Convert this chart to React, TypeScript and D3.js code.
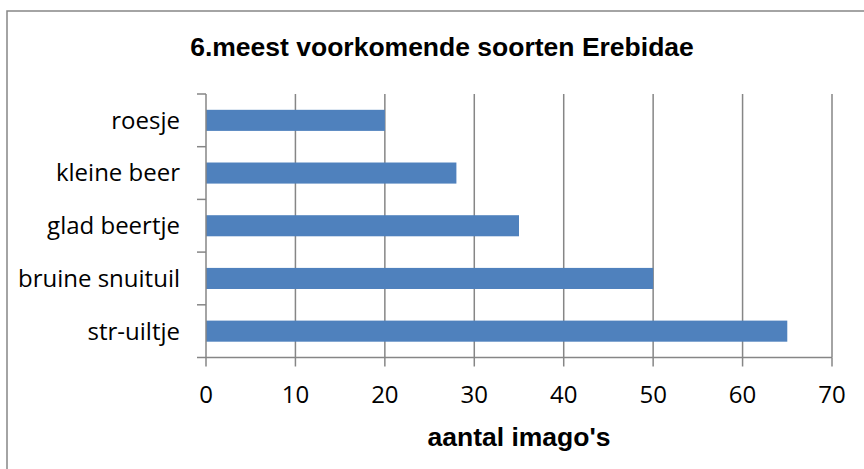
import { useEffect, useRef } from 'react';
import * as d3 from 'd3';

const categories = ['roesje', 'kleine beer', 'glad beertje', 'bruine snuituil', 'str-uiltje'];
const counts = [20, 28, 35, 50, 65];
const xTicks = [0, 10, 20, 30, 40, 50, 60, 70];

const title = '6.meest voorkomende soorten Erebidae';
const xTitle = "aantal imago's";

export default function App() {
	const svgRef = useRef<SVGSVGElement>(null);

	useEffect(() => {
		if (!svgRef.current) return;
		const width = 864;
		const height = 469;
		const svg = d3.select(svgRef.current);
		svg.selectAll('*').remove();

		// outer chart border (right/bottom cropped off)
		svg
			.append('rect')
			.attr('x', 7)
			.attr('y', 11)
			.attr('width', width + 10)
			.attr('height', height + 10)
			.attr('fill', 'white')
			.attr('stroke', '#868686')
			.attr('stroke-width', 1.5);

		const left = 206;
		const right = 832;
		const top = 94;
		const bottom = 357.5;
		const labelFont = '"Open Sans", Lato, sans-serif';
		const titleFont = '"Liberation Sans", Arial, sans-serif';

		const x = d3.scaleLinear().domain([0, 70]).range([left, right]);
		const y = d3.scaleBand().domain(categories).range([top, bottom]).paddingInner(0.6).paddingOuter(0.3);
		const yOuter = d3.scaleBand().domain(categories).range([top, bottom]);

		const data = categories.map((c, i) => ({ label: c, value: counts[i] }));

		// vertical grid lines
		svg
			.append('g')
			.selectAll('line')
			.data(xTicks.slice(1))
			.enter()
			.append('line')
			.attr('x1', (d) => x(d))
			.attr('x2', (d) => x(d))
			.attr('y1', top)
			.attr('y2', bottom)
			.attr('stroke', '#868686')
			.attr('stroke-width', 1.5);

		// bars
		svg
			.append('g')
			.selectAll('rect')
			.data(data)
			.enter()
			.append('rect')
			.attr('x', x(0))
			.attr('y', (d) => y(d.label) || 0)
			.attr('width', (d) => x(d.value) - x(0))
			.attr('height', y.bandwidth())
			.attr('fill', '#4f81bd');

		// y axis line and ticks
		const axisColor = '#868686';
		svg
			.append('line')
			.attr('x1', left)
			.attr('x2', left)
			.attr('y1', top)
			.attr('y2', bottom)
			.attr('stroke', axisColor)
			.attr('stroke-width', 1.5);
		const bounds = categories.map((c) => yOuter(c) || 0).concat([bottom]);
		svg
			.append('g')
			.selectAll('line')
			.data(bounds)
			.enter()
			.append('line')
			.attr('x1', left - 9)
			.attr('x2', left)
			.attr('y1', (d) => d)
			.attr('y2', (d) => d)
			.attr('stroke', axisColor)
			.attr('stroke-width', 1.5);

		svg
			.append('g')
			.selectAll('text')
			.data(categories)
			.enter()
			.append('text')
			.attr('x', 180)
			.attr('y', (d) => (yOuter(d) || 0) + yOuter.bandwidth() / 2)
			.attr('dy', '0.35em')
			.attr('text-anchor', 'end')
			.attr('font-family', labelFont)
			.attr('font-size', 24)
			.attr('fill', '#000')
			.text((d) => d);

		// x axis line and ticks
		svg
			.append('line')
			.attr('x1', left)
			.attr('x2', right)
			.attr('y1', bottom)
			.attr('y2', bottom)
			.attr('stroke', axisColor)
			.attr('stroke-width', 1.5);
		svg
			.append('g')
			.selectAll('line')
			.data(xTicks)
			.enter()
			.append('line')
			.attr('x1', (d) => x(d))
			.attr('x2', (d) => x(d))
			.attr('y1', bottom)
			.attr('y2', bottom + 9)
			.attr('stroke', axisColor)
			.attr('stroke-width', 1.5);
		svg
			.append('g')
			.selectAll('text')
			.data(xTicks)
			.enter()
			.append('text')
			.attr('x', (d) => x(d))
			.attr('y', 395)
			.attr('dy', '0.35em')
			.attr('text-anchor', 'middle')
			.attr('font-family', labelFont)
			.attr('font-size', 24)
			.attr('fill', '#000')
			.text((d) => String(d));

		// titles
		svg
			.append('text')
			.attr('x', 442)
			.attr('y', 47)
			.attr('dy', '0.35em')
			.attr('text-anchor', 'middle')
			.attr('font-family', titleFont)
			.attr('font-weight', 'bold')
			.attr('font-size', 26.5)
			.text(title);

		svg
			.append('text')
			.attr('x', (left + right) / 2)
			.attr('y', 437)
			.attr('dy', '0.35em')
			.attr('text-anchor', 'middle')
			.attr('font-family', titleFont)
			.attr('font-weight', 'bold')
			.attr('font-size', 26.5)
			.text(xTitle);
	}, []);

	return (
		<svg
			ref={svgRef}
			width={864}
			height={469}
			style={{ position: 'absolute', left: 0, top: 0, background: 'white' }}
		></svg>
	);
}
